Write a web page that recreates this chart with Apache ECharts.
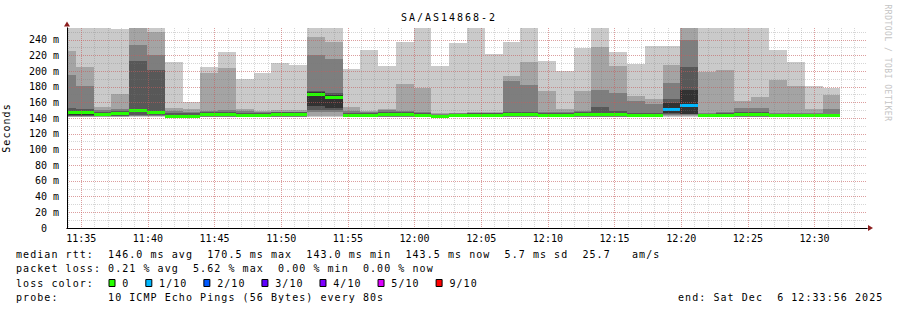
<!DOCTYPE html>
<html>
<head>
<meta charset="utf-8">
<script src="https://cdn.jsdelivr.net/npm/echarts@6/dist/echarts.min.js"></script>
<style>
html, body { margin: 0; padding: 0; background: #ffffff; }
#chart { width: 897px; height: 310px; }
#chart text { white-space: pre; }
#chart text[style*="legendfont"], #chart text[font-family*="legendfont"] { letter-spacing: 1.06px; }
#chart text[style*="titlefont"], #chart text[font-family*="titlefont"] { letter-spacing: 2px; }
#chart text[style*="markfont"], #chart text[font-family*="markfont"] { letter-spacing: 0.5px; }
</style>
</head>
<body>
<div id="chart"></div>
<script>
// ---------------- data ----------------
const chartTitle = 'SA/AS14868-2';
const windowStart = '11:33:56';
const windowEnd = '12:33:56';
const stepSeconds = 80;

// end time of each 80 s step
const barEndTimes = [
  '11:34:36','11:35:56','11:37:16','11:38:36','11:39:56','11:41:16','11:42:36','11:43:56',
  '11:45:16','11:46:36','11:47:56','11:49:16','11:50:36','11:51:56','11:53:16','11:54:36',
  '11:55:56','11:57:16','11:58:36','11:59:56','12:01:16','12:02:36','12:03:56','12:05:16',
  '12:06:36','12:07:56','12:09:16','12:10:36','12:11:56','12:13:16','12:14:36','12:15:56',
  '12:17:16','12:18:36','12:19:56','12:21:16','12:22:36','12:23:56','12:25:16','12:26:36',
  '12:27:56','12:29:16','12:30:36','12:31:56'
];

// sorted ping round-trip times per step (ms), rank 1 = fastest .. rank 10 = slowest
const rttRank1 = [141.5,141.5,141.3,141.5,142,142,141,141,141,141,141,141,141,141,141.4,141.4,141,141,141,141,141,141,141,141,141,141,141,141,141,141,141,141,141,141,142,142,141,141,141,141,141,141,141,141];
const rttRank2 = [142,142,141.8,142,142.5,142.5,141.4,141.4,141.5,141.5,141.5,141.5,141.5,141.5,143,143,141.5,141.5,141.5,141.5,141.5,141.4,141.5,141.5,141.5,141.5,141.5,141.5,141.5,141.5,141.5,141.5,141.5,141.5,142.5,143,141.5,141.5,141.5,141.5,141.5,141.5,141.5,141.5];
const rttRank3 = [142.5,142.5,142.2,142.5,143,143,141.7,141.7,142,142,142,142,142,142,147.7,148,142,142,142,142,142,141.7,142,142,142,142,142,142,142,142,142,142,142,142,143.5,144,142,142,142,142,142,142,142,142];
const rttRank4 = [143,143,142.8,143,144,143.5,142,142,142.5,142.5,142.5,142.5,142.5,142.5,151,150,142.5,142.5,142.5,142.5,142.5,142,142.5,142.5,142.5,142.5,142.5,142.5,142.5,142.5,143,142.5,142.5,142.5,145,145,142.5,142.5,142.5,142.5,142.5,142.5,142.5,142.5];
const rttRank5 = [143.5,143.5,143.3,144,147.5,145,142.4,142.4,143.5,143.5,143,143,143.5,143.5,155.4,153.2,143,143,143,143,143,142.3,143,143,143,143,143,143,143,143,144,143.5,143,143,146,145.6,143,143,143.5,143.5,143,143,143,143];
const rttRank6 = [148,148,146.5,147.5,150.5,148.5,144.5,144.5,146,146.5,145,145,146.5,146.5,173.5,170,145,145,146,145.5,145,143.5,144,145,145,146,146.5,145,144.5,146,147,147,145,145,160,176.2,144,145,146.5,146.5,144.5,144.5,144,144];
const rttRank7 = [152.8,152,148.5,149,212.3,201.7,147,146,148,148.5,147,146.5,147.5,147.5,175.3,172,147,146.5,148.5,147.5,146.5,144.5,145,146,146,147.5,148,146.5,146,148,154.5,149.5,147,147,164.7,205.5,145,146,148,148,145.5,145.5,145,145];
const rttRank8 = [195.7,181.3,150.7,152,233.5,220.8,149,148,149.5,150.7,149,147.5,148.5,148.5,220.8,216.1,149.5,147.5,150.5,149,147.3,145.5,146,147,147,187.5,182.5,148,148,149.5,176.2,172.4,162.2,158.4,185,239.9,146.5,147.5,153.2,153.2,147,147,147,152];
const rttRank9 = [225.9,205.9,154.1,171.1,262,250.1,152.4,151.1,198.2,204.2,152,149,150,149.9,243.7,237.7,154,149,152,183.8,178.7,146.5,147,148.5,148.5,193.9,211.8,174.9,152,174.9,231,206.7,168.5,164.7,208,262,198.5,201.6,162.2,167.2,188.9,181.3,152,169.8];
const rttRank10 = [270,270,270,253.9,275,270,211.8,160.9,205.9,224.6,190.2,197,210.6,207.2,270,270,203,227,206.7,237.3,270,206.7,236.2,270,222,237.3,270,213.1,200.4,229.7,270,224.6,208.5,232.2,232.2,275,270,270,270,270,227.1,211.8,181.3,178.7];

// median rtt per step (ms) and number of lost pings (out of 10)
const medianRtt = [147.3,147,145,145.8,149.2,147.2,142.7,142.7,144.6,145,143.5,144,145,145,170,166.8,143.5,143.7,145,144.3,144,142.6,143.4,144,144,144.5,145,143.8,143.5,145,145,144.5,144,144,151.5,156.6,143.4,144,145.3,145.3,143.4,143.4,143,143.2];
const lostPings = [0,0,0,0,0,0,0,0,0,0,0,0,0,0,0,0,0,0,0,0,0,0,0,0,0,0,0,0,0,0,0,0,0,0,1,1,0,0,0,0,0,0,0,0];

// loss legend
const lossLegendLabels = ['0','1/10','2/10','3/10','4/10','5/10','9/10'];
const lossLegendThresholds = [0,1,2,3,4,5,9];
const lossLegendColors = ['#26ff00','#00b8ff','#0059ff','#5e00ff','#7e00ff','#dd00ff','#ff0000'];

// footer texts
const footerLines = [
  'median rtt:  146.0 ms avg  170.5 ms max  143.0 ms min  143.5 ms now  5.7 ms sd  25.7   am/s',
  'packet loss: 0.21 % avg  5.62 % max  0.00 % min  0.00 % now',
  'loss color:',
  'probe:       10 ICMP Echo Pings (56 Bytes) every 80s'
];
const endStamp = 'end: Sat Dec  6 12:33:56 2025';
const watermark = 'RRDTOOL / TOBI OETIKER';
const yAxisTitle = 'Seconds';

// ---------------- styles ----------------
const SMOKE_SHADES = ['#cacaca', '#a4a4a4', '#7e7e7e', '#585858', '#323232'];
const MONO = 'DejaVu Sans Mono';
const LEGEND_FONT = 'DejaVu Sans Mono, legendfont';
const MAJOR_GRID = 'rgba(228,80,80,0.42)';
const MINOR_GRID = 'rgba(120,120,120,0.3)';
const ARROW_COLOR = '#8c1e1e';

// ---------------- helpers ----------------
function toTs(hms) {
  const p = hms.split(':').map(Number);
  return new Date(2025, 11, 6, p[0], p[1], p[2]).getTime();
}
function pad2(n) { return (n < 10 ? '0' : '') + n; }

const tMin = toTs(windowStart);
const tMax = toTs(windowEnd);

const rankArrays = [rttRank1, rttRank2, rttRank3, rttRank4, rttRank5, rttRank6, rttRank7, rttRank8, rttRank9, rttRank10];
const smokeData = barEndTimes.map(function (t, i) {
  const end = toTs(t);
  return [end - stepSeconds * 1000, end].concat(rankArrays.map(function (a) { return a[i]; }));
});
const medianData = barEndTimes.map(function (t, i) {
  const end = toTs(t);
  return [end - stepSeconds * 1000, end, medianRtt[i], lostPings[i]];
});

function lossColor(lost) {
  let c = lossLegendColors[0];
  for (let i = 0; i < lossLegendThresholds.length; i++) {
    if (lost >= lossLegendThresholds[i]) c = lossLegendColors[i];
  }
  return c;
}

function csRect(cs) { return { x: cs.x, y: cs.y, width: cs.width, height: cs.height }; }

function smokeItem(params, api) {
  const cs = csRect(params.coordSys);
  const t0 = api.value(0), t1 = api.value(1);
  const kids = [];
  for (let i = 0; i < 5; i++) {
    const lo = api.value(2 + i), hi = api.value(11 - i);
    const a = api.coord([t0, hi]), b = api.coord([t1, lo]);
    const x0 = Math.round(a[0]), x1 = Math.round(b[0]);
    const y0 = Math.round(a[1]), y1 = Math.round(b[1]);
    const r = echarts.graphic.clipRectByRect({ x: x0, y: y0, width: x1 - x0, height: y1 - y0 }, cs);
    if (r && r.height > 0 && r.width > 0) {
      kids.push({ type: 'rect', shape: r, style: { fill: SMOKE_SHADES[i] } });
    }
  }
  return { type: 'group', children: kids };
}

function medianItem(params, api) {
  const cs = csRect(params.coordSys);
  const a = api.coord([api.value(0), api.value(2)]);
  const b = api.coord([api.value(1), api.value(2)]);
  const x0 = Math.round(a[0]), x1 = Math.round(b[0]);
  const y0 = Math.round(a[1] - 1.5);
  const r = echarts.graphic.clipRectByRect({ x: x0, y: y0, width: x1 - x0, height: 3 }, cs);
  if (!r || r.width <= 0) return null;
  return { type: 'rect', shape: r, style: { fill: lossColor(api.value(3)) } };
}

// ---------------- footer graphics ----------------
const lineY = [254, 268.3, 283, 297.5];
const graphics = [];
graphics.push({
  type: 'text', x: 449, y: 17, silent: true,
  style: { text: chartTitle, fill: '#000', font: '10px DejaVu Sans Mono, titlefont', textAlign: 'center', textVerticalAlign: 'middle' }
});
graphics.push({
  type: 'text', x: 887.5, y: 63, rotation: -Math.PI / 2, silent: true,
  style: { text: watermark, fill: '#c4c4c4', font: '8px DejaVu Sans Mono, markfont', textAlign: 'center', textVerticalAlign: 'middle' }
});
footerLines.forEach(function (s, i) {
  graphics.push({
    type: 'text', x: 16, y: lineY[i], silent: true,
    style: { text: s, fill: '#000', font: '10px ' + LEGEND_FONT, textAlign: 'left', textVerticalAlign: 'middle' }
  });
});
graphics.push({
  type: 'text', x: 678, y: lineY[3], silent: true,
  style: { text: endStamp, fill: '#000', font: '10px ' + LEGEND_FONT, textAlign: 'left', textVerticalAlign: 'middle' }
});
(function () {
  const charW = 7.08;
  let x = 108.5;
  lossLegendLabels.forEach(function (lab, i) {
    graphics.push({
      type: 'rect', silent: true,
      shape: { x: x + 0.5, y: lineY[2] - 3.5, width: 6, height: 7 },
      style: { fill: lossLegendColors[i], stroke: '#000', lineWidth: 1 }
    });
    graphics.push({
      type: 'text', x: x + 13.8, y: lineY[2], silent: true,
      style: { text: lab, fill: '#000', font: '10px ' + LEGEND_FONT, textAlign: 'left', textVerticalAlign: 'middle' }
    });
    x += (2 + lab.length + 2.2) * charW;
  });
})();

// ---------------- chart ----------------
const chart = echarts.init(document.getElementById('chart'), null, { renderer: 'svg' });
chart.setOption({
  animation: false,
  backgroundColor: '#ffffff',
  grid: { left: 67, right: 30, top: 28, bottom: 82, containLabel: false, outerBoundsMode: 'none' },
  xAxis: [
    {
      type: 'time', position: 'bottom', min: tMin, max: tMax,
      minInterval: 6 * 60000, maxInterval: 6 * 60000, z: 4,
      axisLine: { show: true, onZero: false, lineStyle: { color: '#000', width: 1 } },
      axisTick: { show: false },
      axisLabel: {
        show: true, margin: 5, color: '#000', fontFamily: MONO, fontSize: 10,
        showMinLabel: false, showMaxLabel: false, hideOverlap: false,
        formatter: function (v) {
          const d = new Date(v);
          if (d.getSeconds() !== 0 || d.getMinutes() % 5 !== 0) return '';
          return pad2(d.getHours()) + ':' + pad2(d.getMinutes());
        }
      },
      splitLine: { show: true, showMinLine: false, showMaxLine: false, lineStyle: { color: MAJOR_GRID, width: 1, type: [1, 1] } }
    },
    {
      type: 'time', position: 'bottom', min: tMin, max: tMax,
      minInterval: 90000, maxInterval: 90000, z: 3,
      axisLine: { show: true, onZero: false, symbol: ['none', 'triangle'], symbolSize: [6, 5], symbolOffset: [0, 3.5], lineStyle: { color: ARROW_COLOR, width: 1 } },
      axisTick: { show: false },
      axisLabel: { show: false },
      splitLine: { show: true, showMinLine: false, showMaxLine: false, lineStyle: { color: MINOR_GRID, width: 1, type: [1, 1] } }
    }
  ],
  yAxis: [
    {
      type: 'value', position: 'left', min: 0, max: 255, interval: 20, z: 4,
      name: yAxisTitle, nameLocation: 'middle', nameGap: 56,
      nameTextStyle: { color: '#000', fontFamily: LEGEND_FONT, fontSize: 10 },
      axisLine: { show: true, onZero: false, lineStyle: { color: '#000', width: 1 } },
      axisTick: { show: false },
      axisLabel: {
        show: true, margin: 8, color: '#000', fontFamily: MONO, fontSize: 10, showMaxLabel: false,
        formatter: function (v) { return v === 0 ? '0\u00a0\u00a0' : v + '\u00a0m'; }
      },
      splitLine: { show: true, showMinLine: false, showMaxLine: false, lineStyle: { color: MAJOR_GRID, width: 1, type: [1, 1] } }
    },
    {
      type: 'value', position: 'left', min: 0, max: 255, interval: 10, z: 3,
      axisLine: { show: true, onZero: false, symbol: ['none', 'triangle'], symbolSize: [6, 5], symbolOffset: [0, 4], lineStyle: { color: ARROW_COLOR, width: 1 } },
      axisTick: { show: false },
      axisLabel: { show: false },
      splitLine: { show: true, showMinLine: false, showMaxLine: false, lineStyle: { color: MINOR_GRID, width: 1, type: [1, 1] } }
    }
  ],
  series: [
    {
      name: 'smoke', type: 'custom', xAxisIndex: 0, yAxisIndex: 0, z: 1, silent: true,
      renderItem: smokeItem, data: smokeData,
      encode: { x: [0, 1], y: [2, 3, 4, 5, 6, 7, 8, 9, 10, 11] }
    },
    {
      name: 'median rtt', type: 'custom', xAxisIndex: 0, yAxisIndex: 0, z: 1, silent: true,
      renderItem: medianItem, data: medianData,
      encode: { x: [0, 1], y: 2 }
    }
  ],
  graphic: graphics
});
</script>
</body>
</html>
